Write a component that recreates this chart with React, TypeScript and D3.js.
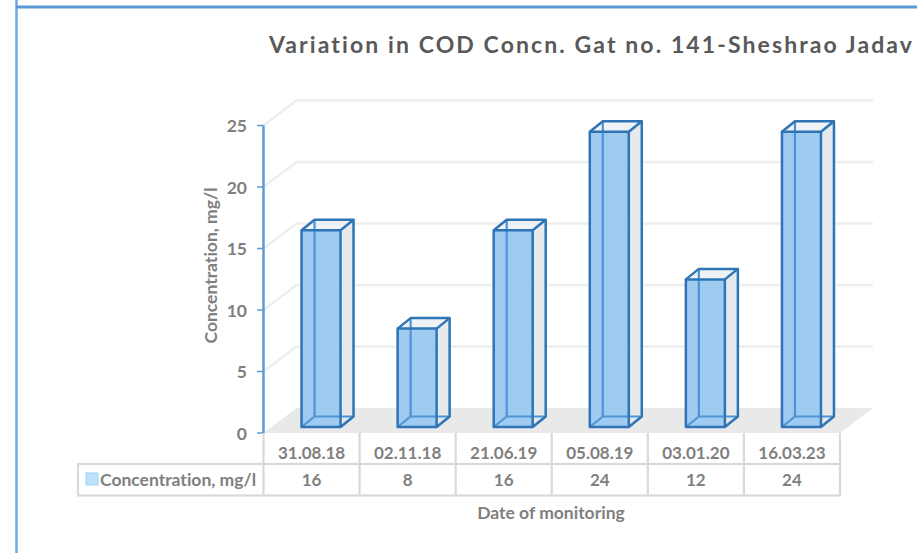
import React from "react";
import * as d3 from "d3";

const categories = ["31.08.18", "02.11.18", "21.06.19", "05.08.19", "03.01.20", "16.03.23"];
const values = [16, 8, 16, 24, 12, 24];
const yTicks = [0, 5, 10, 15, 20, 25];
const title = "Variation in COD Concn. Gat no. 141-Sheshrao Jadav";
const seriesName = "Concentration, mg/l";
const yTitle = "Concentration, mg/l";
const xTitle = "Date of monitoring";

const FONT = "Lato, 'Open Sans', sans-serif";
const GRAY = "#808080";
const BLUE = "#2e75b6";
const LINE = "#d9d9d9";

export default function App() {
  const y = d3.scaleLinear().domain([0, 25]).range([433, 125.5]);
  const x = d3.scaleBand<string>().domain(categories).range([263.5, 840]);
  const depthX = 33;
  const depthY = 25;
  const barDX = 13;
  const barDY = 10.5;
  const barW = 39;
  const barLift = 6;
  const barShift = 9.5;
  const right = 840;

  return (
    <svg
      width={917}
      height={553}
      style={{ position: "absolute", left: 0, top: 0, background: "#fff", fontVariantLigatures: "none" }}
      fontFamily={FONT}
    >
      {/* frame */}
      <line x1={16.5} y1={0} x2={16.5} y2={553} stroke="#6fa8dc" strokeWidth={2.5} />
      <line x1={16} y1={7} x2={917} y2={7} stroke="#5b9bd5" strokeWidth={3} />

      <text
        x={269}
        y={53}
        fontSize={23}
        fontWeight={700}
        fill="#595959"
        textLength={643}
        lengthAdjust="spacing"
      >
        {title}
      </text>

      {/* floor */}
      <polygon
        points={`${x.range()[0]},${y(0)} ${right},${y(0)} ${right + depthX},${y(0) - depthY} ${x.range()[0] + depthX},${y(0) - depthY}`}
        fill="#e9e9e9"
      />

      {/* gridlines */}
      {yTicks.filter((t) => t > 0).map((t) => (
        <polyline
          key={t}
          points={`${x.range()[0]},${y(t)} ${x.range()[0] + depthX},${y(t) - depthY} ${right + depthX},${y(t) - depthY}`}
          fill="none"
          stroke="#eeeeee"
          strokeWidth={2.5}
        />
      ))}

      {/* axis */}
      <line x1={263.5} y1={y(25)} x2={263.5} y2={y(0)} stroke="#5b9bd5" strokeWidth={2.5} />
      {yTicks.map((t) => (
        <g key={t}>
          <line x1={257} x2={263.5} y1={y(t)} y2={y(t)} stroke="#5b9bd5" strokeWidth={1.5} />
          <text x={247} y={y(t) + 6.5} textAnchor="end" fontSize={17.5} fontWeight={700} fill={GRAY}>
            {t}
          </text>
        </g>
      ))}
      <text
        transform={`translate(217,265.5) rotate(-90)`}
        textAnchor="middle"
        fontSize={17.5}
        fontWeight={700}
        fill={GRAY}
      >
        {yTitle}
      </text>

      {/* bars */}
      {categories.map((c, i) => {
        const l = x(c)! + x.bandwidth() / 2 + barShift - barW / 2;
        const r = l + barW;
        const t = y(values[i]) - barLift;
        const b = y(0) - barLift;
        return (
          <g key={c} strokeLinejoin="round">
            <polygon
              points={`${r},${t} ${r + barDX},${t - barDY} ${r + barDX},${b - barDY} ${r},${b}`}
              fill="#e3e7eb"
              fillOpacity={0.9}
            />
            <rect x={l} y={t} width={barW} height={b - t} fill="#a0cbf1" />
            <polygon
              points={`${l},${t} ${l + barDX},${t - barDY} ${r + barDX},${t - barDY} ${r},${t}`}
              fill="#e8edf2"
              fillOpacity={0.7}
            />
            {/* hidden back edges */}
            <g stroke="#4f94d4" strokeWidth={2.2} fill="none">
              <line x1={l + barDX} y1={t - barDY} x2={l + barDX} y2={b - barDY} />
              <line x1={l + barDX} y1={b - barDY} x2={r + barDX} y2={b - barDY} />
              <line x1={l} y1={b} x2={l + barDX} y2={b - barDY} />
            </g>
            {/* visible edges */}
            <g stroke={BLUE} strokeWidth={2.5} fill="none">
              <rect x={l} y={t} width={barW} height={b - t} />
              <polyline points={`${l},${t} ${l + barDX},${t - barDY} ${r + barDX},${t - barDY} ${r},${t}`} />
              <polyline points={`${r + barDX},${t - barDY} ${r + barDX},${b - barDY} ${r},${b}`} />
            </g>
          </g>
        );
      })}

      {/* data table */}
      <g stroke={LINE} strokeWidth={2.2} fill="none">
        <rect x={78} y={464} width={right - 78} height={31.5} />
        {categories.map((c) => (
          <line key={c} x1={x(c)!} x2={x(c)!} y1={433} y2={495.5} />
        ))}
        <line x1={right} x2={right} y1={433} y2={495.5} />
      </g>
      {categories.map((c, i) => (
        <g key={c} textAnchor="middle" fontSize={17} fontWeight={700} fill={GRAY}>
          <text x={x(c)! + x.bandwidth() / 2} y={458.5}>{c}</text>
          <text x={x(c)! + x.bandwidth() / 2} y={485.5}>{values[i]}</text>
        </g>
      ))}
      <rect x={86} y={473} width={12} height={12} fill="#bde3fb" stroke="#9dd0f5" strokeWidth={1} />
      <text x={100} y={485.5} fontSize={17.5} fontWeight={700} fill={GRAY}>
        {seriesName}
      </text>
      <text x={551} y={518.5} textAnchor="middle" fontSize={17.5} fontWeight={700} fill={GRAY}>
        {xTitle}
      </text>
    </svg>
  );
}
